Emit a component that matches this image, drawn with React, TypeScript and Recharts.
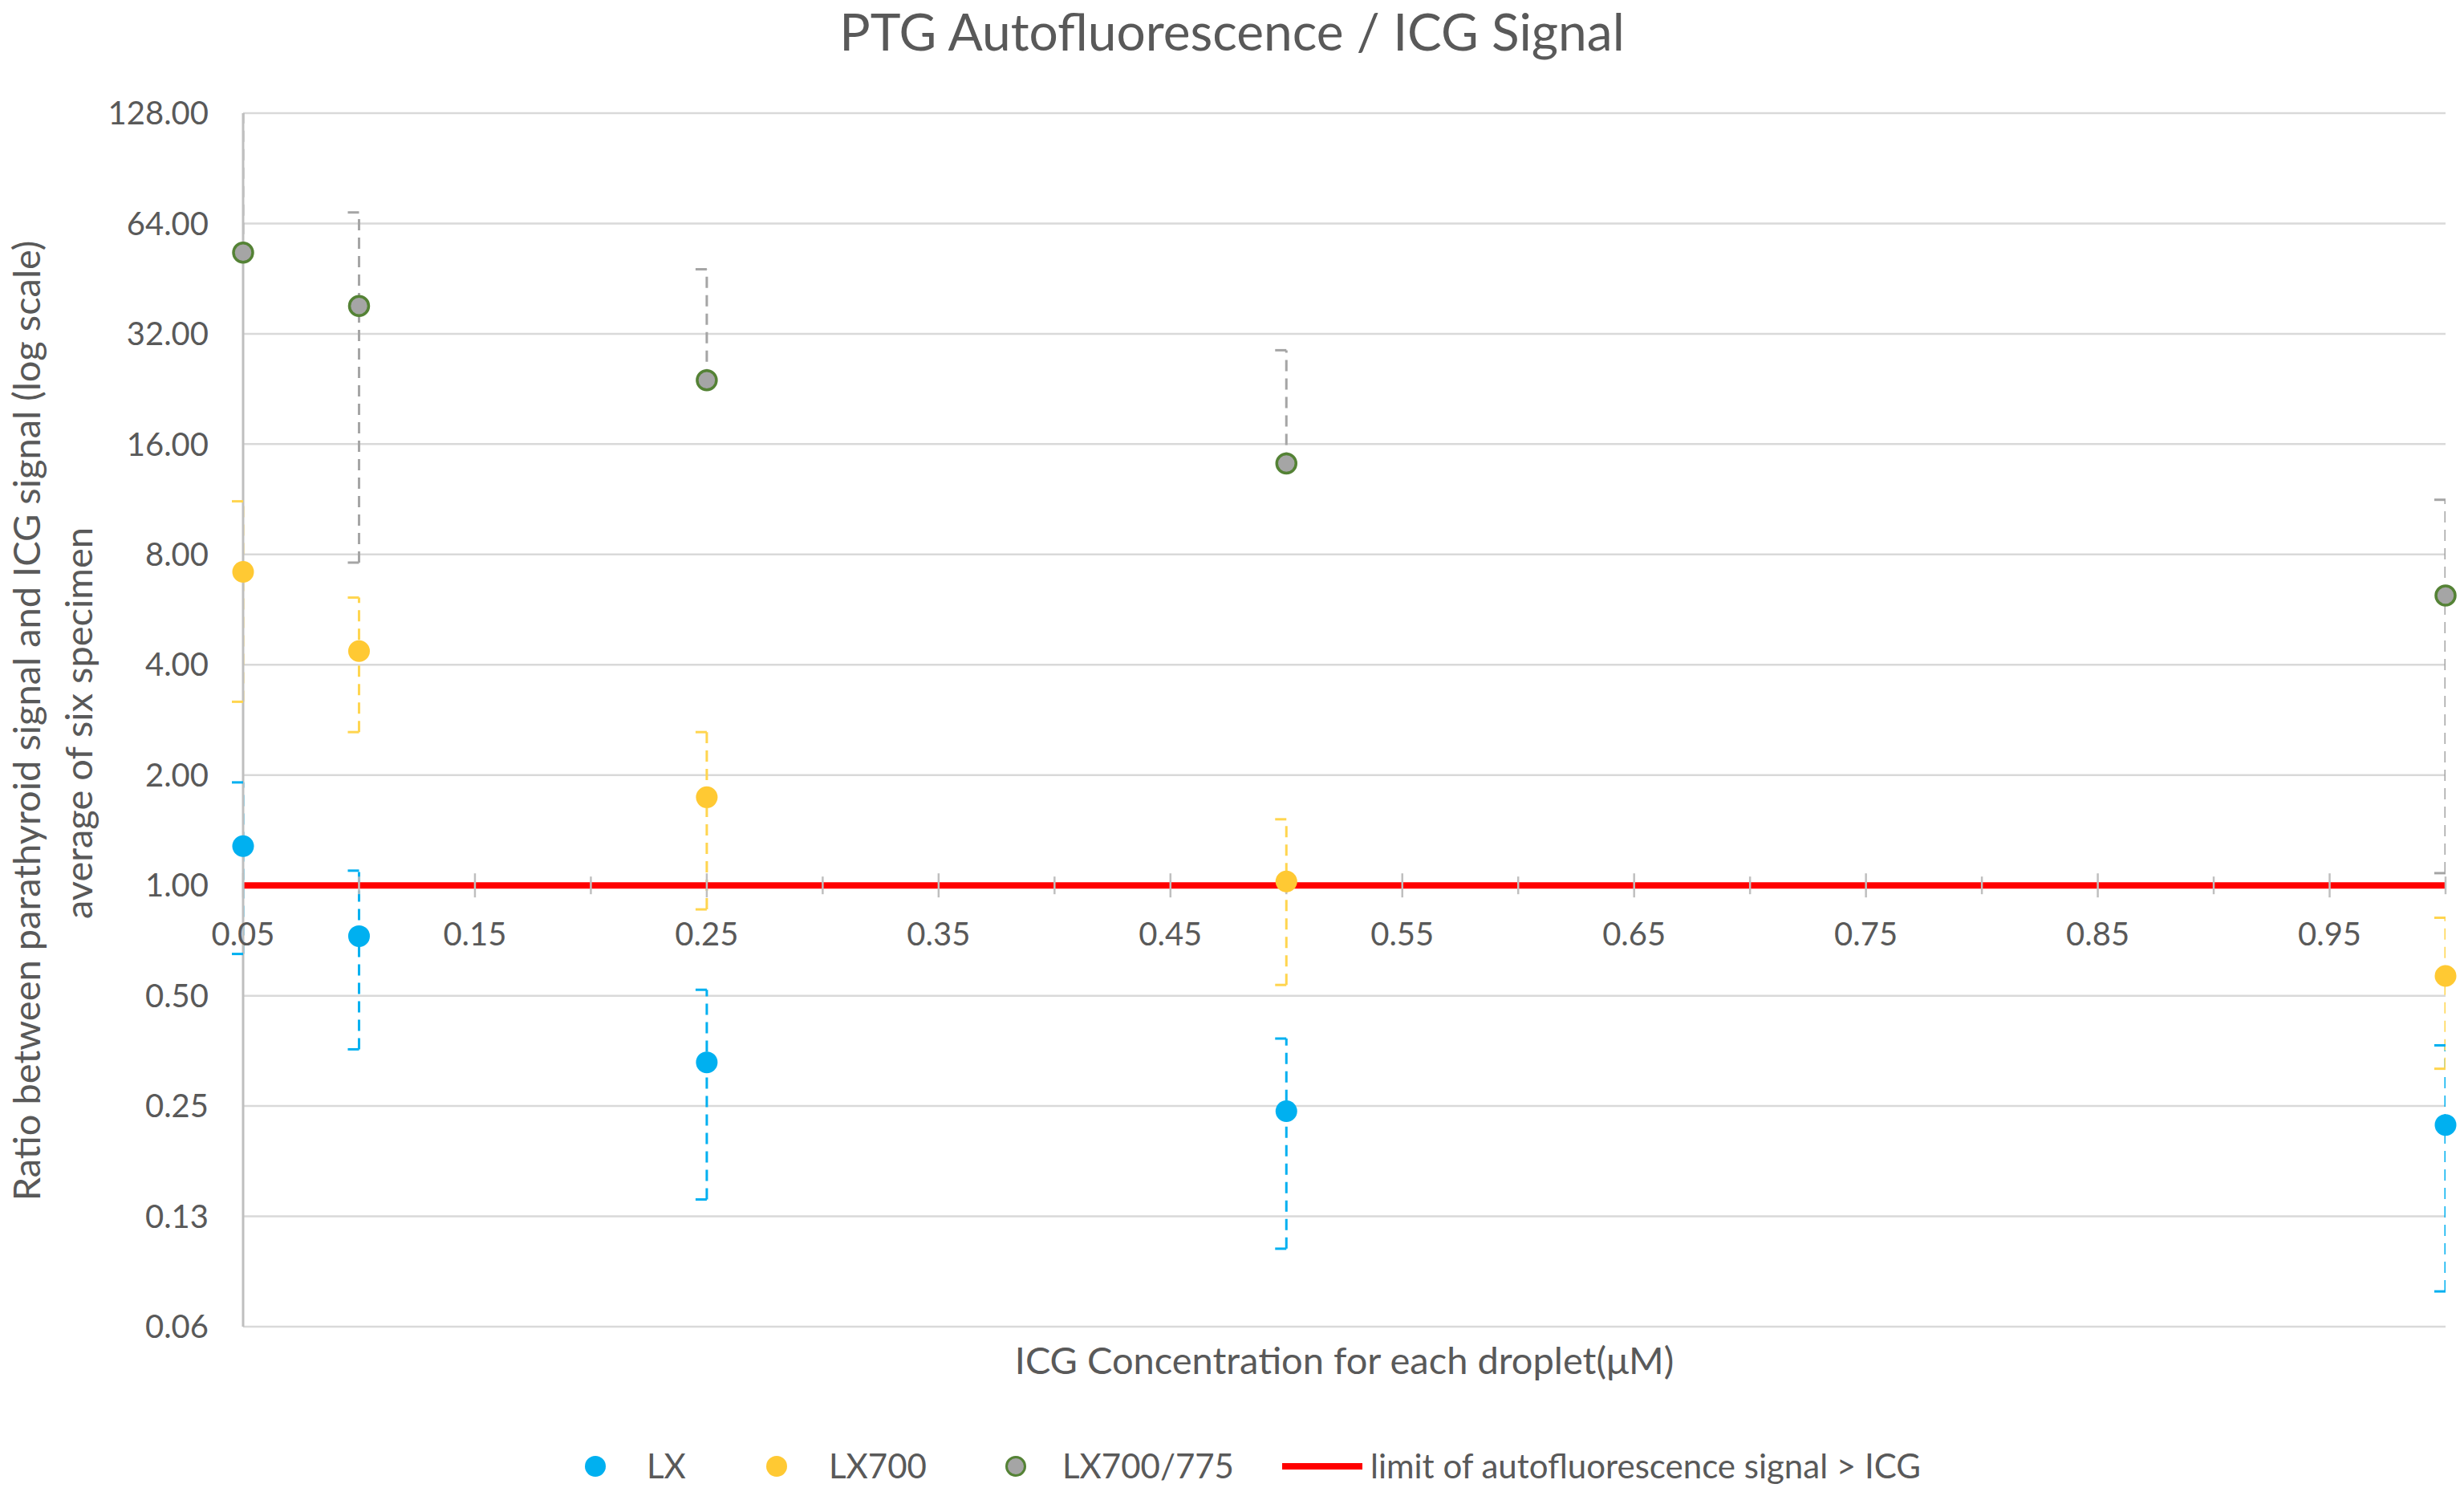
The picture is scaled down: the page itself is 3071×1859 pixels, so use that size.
import React from "react";
import { ScatterChart, Scatter, XAxis, YAxis, CartesianGrid, ReferenceLine, ReferenceDot } from "recharts";

// ICG concentration per droplet (µM)
const concentrations = [0.05, 0.1, 0.25, 0.5, 1.0];

// mean ratio and standard deviation, six specimens
const lxMean = [1.28, 0.727, 0.329, 0.242, 0.222];
const lxSd = [0.63, 0.37, 0.19, 0.14, 0.144];
const lx700Mean = [7.17, 4.36, 1.74, 1.025, 0.566];
const lx700Sd = [4.0, 1.74, 0.88, 0.49, 0.25];
const lx775Mean = [53.3, 38.1, 23.9, 14.16, 6.18];
const lx775Sd = [80, 30.5, 24.1, 14.7, 5.1];

const limitValue = 1;

const yTicks = [0.0625, 0.125, 0.25, 0.5, 1, 2, 4, 8, 16, 32, 64, 128];
const yTickLabels = ["0.06", "0.13", "0.25", "0.50", "1.00", "2.00", "4.00", "8.00", "16.00", "32.00", "64.00", "128.00"];
const xMajorTicks = [0.05, 0.15, 0.25, 0.35, 0.45, 0.55, 0.65, 0.75, 0.85, 0.95];
const xTickLabels = ["0.05", "0.15", "0.25", "0.35", "0.45", "0.55", "0.65", "0.75", "0.85", "0.95"];
const xMinorTicks = [0.1, 0.2, 0.3, 0.4, 0.5, 0.6, 0.7, 0.8, 0.9, 1.0];

const FONT = "Lato, 'Noto Sans', sans-serif";
const TEXT = "#595959";
const AXIS_GRAY = "#BFBFBF";

const series = [
  { name: "LX", mean: lxMean, sd: lxSd, fill: "#00B0F0", stroke: "#00B0F0", strokeWidth: 0, r: 13.5, err: "#00B0F0" },
  { name: "LX700", mean: lx700Mean, sd: lx700Sd, fill: "#FFC933", stroke: "#FFC933", strokeWidth: 0, r: 13.5, err: "#FFD54F" },
  { name: "LX700/775", mean: lx775Mean, sd: lx775Sd, fill: "#A5A5A5", stroke: "#548235", strokeWidth: 3.5, r: 12, err: "#A5A5A5" },
];

const rowsFor = (s) =>
  concentrations.map((x, i) => ({
    x,
    y: s.mean[i],
    lo: s.mean[i] - s.sd[i] > 0 ? s.mean[i] - s.sd[i] : null,
    hi: s.mean[i] + s.sd[i],
  }));

const capShape = (color) => (p) => (
  <line x1={p.cx - 14} x2={p.cx} y1={p.cy} y2={p.cy} stroke={color} strokeWidth={3} />
);

const majorTick = (label) => (p) => (
  <g>
    <line x1={p.cx} x2={p.cx} y1={p.cy - 15} y2={p.cy + 15} stroke={AXIS_GRAY} strokeWidth={2.5} />
    <text x={p.cx} y={p.cy + 60} textAnchor="middle" dominantBaseline="central" fill={TEXT} fontFamily={FONT} fontSize={40}>
      {label}
    </text>
  </g>
);

const minorTick = (p) => (
  <line x1={p.cx} x2={p.cx} y1={p.cy - 11} y2={p.cy + 11} stroke={AXIS_GRAY} strokeWidth={2.5} />
);

const yTitle = () => (
  <g fill={TEXT} fontFamily={FONT} fontSize={47}>
    <text transform="translate(32, 898) rotate(-90)" textAnchor="middle" dominantBaseline="central">
      Ratio between parathyroid signal and ICG signal (log scale)
    </text>
    <text transform="translate(97, 901) rotate(-90)" textAnchor="middle" dominantBaseline="central">
      average of six specimen
    </text>
  </g>
);

const legendItems = [
  { label: "LX", kind: "dot", x: 742, tx: 806, fill: "#00B0F0", stroke: "#00B0F0", sw: 0 },
  { label: "LX700", kind: "dot", x: 968, tx: 1033, fill: "#FFC933", stroke: "#FFC933", sw: 0 },
  { label: "LX700/775", kind: "dot", x: 1266, tx: 1324, fill: "#A5A5A5", stroke: "#548235", sw: 3 },
  { label: "limit of autofluorescence signal > ICG", kind: "line", x: 1598, tx: 1708, fill: "#FF0000", stroke: "#FF0000", sw: 0 },
];

export default function App() {
  return (
    <div style={{ position: "absolute", left: 0, top: 0, width: 3071, height: 1859, background: "#fff", fontFamily: FONT }}>
      <div style={{ position: "absolute", top: 0, left: 0, width: 3071, textAlign: "center", color: TEXT, fontSize: 64 }}>
        PTG Autofluorescence / ICG Signal
      </div>
      <ScatterChart width={3071} height={1859} margin={{ top: 141, right: 23, bottom: 206, left: 153 }}>
        <CartesianGrid horizontal vertical={false} stroke="#D9D9D9" strokeWidth={2.5} />
        <XAxis type="number" dataKey="x" domain={[0.05, 1.0]} hide />
        <YAxis
          type="number"
          dataKey="y"
          scale="log"
          domain={[0.0625, 128]}
          ticks={yTicks}
          width={150}
          tickLine={false}
          tickSize={0}
          tickMargin={43}
          axisLine={{ stroke: AXIS_GRAY, strokeWidth: 3 }}
          tick={{ fill: TEXT, fontFamily: FONT, fontSize: 40 }}
          tickFormatter={(v) => yTickLabels[yTicks.indexOf(v)]}
          label={{ content: yTitle }}
        />
        {series.map((s) =>
          rowsFor(s).map((d) => (
            <ReferenceLine
              key={`${s.name}-bar-${d.x}`}
              segment={[{ x: d.x, y: d.lo ?? d.y }, { x: d.x, y: d.hi }]}
              stroke={s.err}
              strokeWidth={3}
              strokeDasharray="14 9"
              ifOverflow="hidden"
            />
          ))
        )}
        {series.map((s) =>
          rowsFor(s).flatMap((d) =>
            [d.hi, d.lo]
              .filter((v) => v !== null)
              .map((v, k) => (
                <ReferenceDot key={`${s.name}-cap-${d.x}-${k}`} x={d.x} y={v} shape={capShape(s.err)} />
              ))
          )
        )}
        {xMinorTicks.map((t) => (
          <ReferenceDot key={`minor-${t}`} x={t} y={limitValue} shape={minorTick} />
        ))}
        {xMajorTicks.map((t, i) => (
          <ReferenceDot key={`major-${t}`} x={t} y={limitValue} shape={majorTick(xTickLabels[i])} />
        ))}
        <ReferenceLine y={limitValue} stroke="#FF0000" strokeWidth={8} />
        {series.map((s) => (
          <Scatter
            key={s.name}
            name={s.name}
            data={rowsFor(s)}
            isAnimationActive={false}
            shape={(p) => <circle cx={p.cx} cy={p.cy} r={s.r} fill={s.fill} stroke={s.stroke} strokeWidth={s.strokeWidth} />}
          />
        ))}
      </ScatterChart>
      <div style={{ position: "absolute", top: 1666, left: 303, width: 2745, textAlign: "center", color: TEXT, fontSize: 47 }}>
        ICG Concentration for each droplet(μM)
      </div>
      {legendItems.map((it) => (
        <React.Fragment key={it.label}>
          {it.kind === "dot" ? (
            <div
              style={{
                position: "absolute",
                left: it.x - 13,
                top: 1827 - 13,
                width: 26 - it.sw * 2,
                height: 26 - it.sw * 2,
                borderRadius: "50%",
                background: it.fill,
                border: `${it.sw}px solid ${it.stroke}`,
              }}
            />
          ) : (
            <div style={{ position: "absolute", left: it.x, top: 1823, width: 100, height: 8, background: it.fill }} />
          )}
          <div style={{ position: "absolute", left: it.tx, top: 1827 - 26, lineHeight: "50px", fontSize: 42, color: TEXT }}>
            {it.label}
          </div>
        </React.Fragment>
      ))}
    </div>
  );
}
